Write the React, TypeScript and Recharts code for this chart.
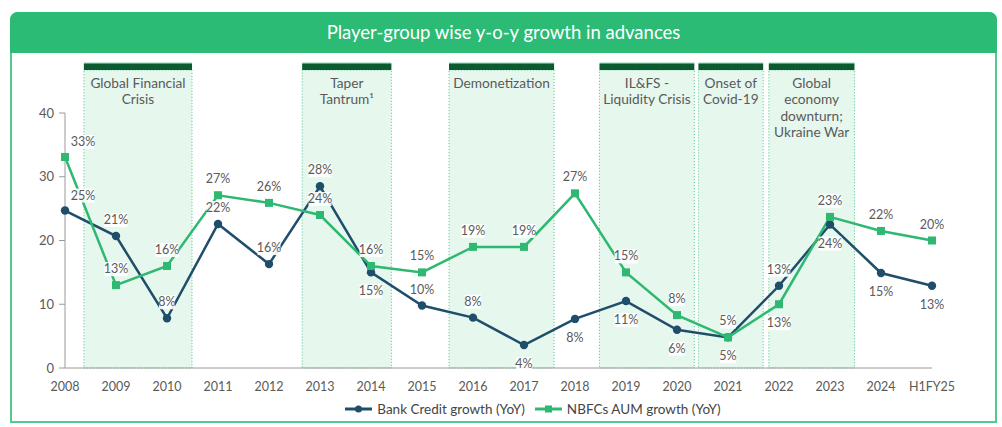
import { LineChart, Line, XAxis, YAxis, ReferenceArea, LabelList, Legend } from "recharts";

const years = ["2008", "2009", "2010", "2011", "2012", "2013", "2014", "2015", "2016", "2017", "2018", "2019", "2020", "2021", "2022", "2023", "2024", "H1FY25"];

const bankCredit = [24.7, 20.7, 7.8, 22.6, 16.3, 28.5, 15.0, 9.8, 7.9, 3.6, 7.7, 10.5, 6.0, 4.8, 12.9, 22.5, 14.9, 12.9];
const bankLabels = ["25%", "21%", "8%", "22%", "16%", "28%", "15%", "10%", "8%", "4%", "8%", "11%", "6%", "5%", "13%", "24%", "15%", "13%"];
const bankLabelPos = ["corner", "top", "top", "top", "top", "top", "bottom", "top", "top", "bottom", "bottom", "bottom", "bottom", "bottom", "top", "bottom", "bottom", "bottom"];

const nbfcAum = [33.1, 13.0, 16.0, 27.1, 25.9, 24.0, 16.0, 15.0, 19.0, 19.0, 27.4, 15.0, 8.3, 4.8, 10.0, 23.7, 21.5, 20.0];
const nbfcLabels = ["33%", "13%", "16%", "27%", "26%", "24%", "16%", "15%", "19%", "19%", "27%", "15%", "8%", "5%", "13%", "23%", "22%", "20%"];
const nbfcLabelPos = ["corner", "top", "top", "top", "top", "top", "top", "top", "top", "top", "top", "top", "top", "top", "bottom", "top", "top", "top"];

// event windows, in category index units
const events = [
  { from: 0.37, to: 2.49, lines: ["Global Financial", "Crisis"] },
  { from: 4.65, to: 6.4, lines: ["Taper", "Tantrum¹"] },
  { from: 7.53, to: 9.59, lines: ["Demonetization"] },
  { from: 10.48, to: 12.34, lines: ["IL&FS -", "Liquidity Crisis"] },
  { from: 12.42, to: 13.69, lines: ["Onset of", "Covid-19"] },
  { from: 13.8, to: 15.48, lines: ["Global", "economy", "downturn;", "Ukraine War"] },
];

const data = years.map((year, i) => ({
  year,
  idx: i,
  bank: bankCredit[i],
  nbfc: nbfcAum[i],
}));

const FONT = "Lato, 'Open Sans', sans-serif";
const BLUE = "#1f4e6b";
const GREEN = "#2eb872";
const TEXT = "#5a5a5a";

const makeLabel = (texts: string[], pos: string[]) => (props: any) => {
  const { index } = props;
  const x = props.x ?? props.viewBox?.x;
  const y = props.y ?? props.viewBox?.y;
  if (x == null || y == null) return null;
  const t = texts[index];
  const p = pos[index];
  let cx = x;
  let cy = y - 16;
  if (p === "bottom") cy = y + 19;
  if (p === "corner") {
    cx = x + 18;
    cy = y - 15;
  }
  const w = t.length * 7 + 2;
  return (
    <g key={`lbl-${index}`}>
      <rect x={cx - w / 2} y={cy - 7} width={w} height={14} fill="#fff" fillOpacity={0.9} />
      <text x={cx} y={cy + 4} textAnchor="middle" fill={TEXT} fontSize={12.5} fontFamily={FONT}>
        {t}
      </text>
    </g>
  );
};

const SquareDot = (props: any) => {
  const { cx, cy, index } = props;
  if (cx == null || cy == null) return null;
  return <rect key={`sq-${index}`} x={cx - 4} y={cy - 4} width={8} height={8} fill={GREEN} />;
};

const CircleDot = (props: any) => {
  const { cx, cy, index } = props;
  if (cx == null || cy == null) return null;
  return <circle key={`ci-${index}`} cx={cx} cy={cy} r={4.2} fill={BLUE} />;
};

const bandLabel = (lines: string[]) => (props: any) => {
  const vb = props.viewBox || {};
  const cx = vb.x + vb.width / 2;
  return (
    <text x={cx} y={vb.y + 18} textAnchor="middle" fill={TEXT} fontSize={13.7} fontFamily={FONT}>
      {lines.map((l, i) => (
        <tspan key={i} x={cx} dy={i === 0 ? 0 : 16.5}>
          {l}
        </tspan>
      ))}
    </text>
  );
};

const LegendContent = () => (
  <div
    style={{
      display: "flex",
      justifyContent: "center",
      gap: 10,
      paddingLeft: 64,
      fontFamily: FONT,
      fontSize: 13.5,
      color: "#444",
    }}
  >
    <span style={{ display: "flex", alignItems: "center", gap: 5 }}>
      <svg width={27} height={10}>
        <line x1={0} y1={5} x2={27} y2={5} stroke={BLUE} strokeWidth={3} />
        <circle cx={13.5} cy={5} r={3.5} fill={BLUE} />
      </svg>
      Bank Credit growth (YoY)
    </span>
    <span style={{ display: "flex", alignItems: "center", gap: 5 }}>
      <svg width={27} height={10}>
        <line x1={0} y1={5} x2={27} y2={5} stroke={GREEN} strokeWidth={3} />
        <rect x={10} y={1.5} width={7} height={7} fill={GREEN} />
      </svg>
      NBFCs AUM growth (YoY)
    </span>
  </div>
);

export default function App() {
  return (
    <div style={{ position: "absolute", left: 0, top: 0, width: 1002, height: 427, background: "#fff" }}>
      <div
        style={{
          position: "absolute",
          left: 10,
          top: 12,
          width: 987,
          height: 411,
          boxSizing: "border-box",
          border: "2px solid #52c98d",
          borderRadius: "8px 8px 0 0",
        }}
      />
      <div
        style={{
          position: "absolute",
          left: 10,
          top: 12,
          width: 987,
          height: 41,
          background: "#2bbb74",
          borderRadius: "8px 8px 0 0",
          color: "#fff",
          fontFamily: FONT,
          fontSize: 18.5,
          lineHeight: "41px",
          textAlign: "center",
        }}
      >
        Player-group wise y-o-y growth in advances
      </div>
      <div style={{ position: "absolute", left: 0, top: 0 }}>
        <LineChart width={1002} height={427} data={data} margin={{ top: 113, right: 70, left: 25, bottom: 29 }}>
          <XAxis
            dataKey="year"
            scale="point"
            padding={{ left: 0, right: 0 }}
            height={30}
            tickLine={false}
            tickMargin={8}
            axisLine={{ stroke: "#9a9a9a" }}
            tick={{ fill: TEXT, fontSize: 12.5, fontFamily: FONT }}
            interval={0}
          />
          <XAxis xAxisId="idx" dataKey="idx" type="number" domain={[0, 17]} hide />
          <YAxis
            width={40}
            domain={[0, 40]}
            ticks={[0, 10, 20, 30, 40]}
            tickSize={6}
            tickMargin={5}
            axisLine={{ stroke: "#9a9a9a" }}
            tickLine={{ stroke: "#9a9a9a" }}
            tick={{ fill: TEXT, fontSize: 13, fontFamily: FONT }}
          />
          {events.map((ev, i) => (
            <ReferenceArea
              key={`band-${i}`}
              xAxisId="idx"
              x1={ev.from}
              x2={ev.to}
              y1={0}
              y2={46.75}
              ifOverflow="visible"
              fill="#e6f7ee"
              fillOpacity={1}
              stroke="#4cc28a"
              strokeDasharray="1 2"
              label={bandLabel(ev.lines)}
            />
          ))}
          {events.map((ev, i) => (
            <ReferenceArea
              key={`bar-${i}`}
              xAxisId="idx"
              x1={ev.from}
              x2={ev.to}
              y1={46.75}
              y2={47.7}
              ifOverflow="visible"
              fill="#0b5a30"
              fillOpacity={1}
            />
          ))}
          {events.map((ev, i) => (
            <ReferenceArea
              key={`top-${i}`}
              xAxisId="idx"
              x1={ev.from}
              x2={ev.to}
              y1={47.7}
              y2={47.9}
              ifOverflow="visible"
              fill="#2bbb74"
              fillOpacity={1}
            />
          ))}
          <Line
            dataKey="bank"
            name="Bank Credit growth (YoY)"
            stroke={BLUE}
            strokeWidth={2.5}
            dot={CircleDot}
            activeDot={false}
            isAnimationActive={false}
          />
          <Line
            dataKey="nbfc"
            name="NBFCs AUM growth (YoY)"
            stroke={GREEN}
            strokeWidth={2.5}
            dot={SquareDot}
            activeDot={false}
            isAnimationActive={false}
          />
          {/* label-only series so the white label boxes sit above both lines */}
          <Line dataKey="bank" stroke="none" dot={false} activeDot={false} legendType="none" isAnimationActive={false}>
            <LabelList dataKey="bank" content={makeLabel(bankLabels, bankLabelPos)} />
          </Line>
          <Line dataKey="nbfc" stroke="none" dot={false} activeDot={false} legendType="none" isAnimationActive={false}>
            <LabelList dataKey="nbfc" content={makeLabel(nbfcLabels, nbfcLabelPos)} />
          </Line>
          <Legend
            verticalAlign="middle"
            layout="horizontal"
            align="center"
            content={<LegendContent />}
            wrapperStyle={{ position: "absolute", top: 401, left: 0, width: 1002 }}
          />
        </LineChart>
      </div>
    </div>
  );
}
